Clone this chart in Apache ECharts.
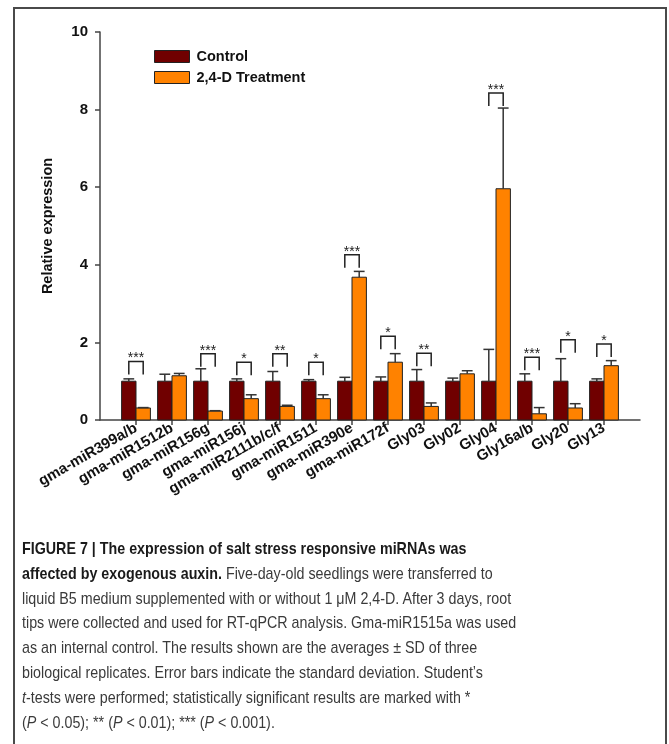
<!DOCTYPE html>
<html>
<head>
<meta charset="utf-8">
<script src="https://cdn.jsdelivr.net/npm/echarts@6/dist/echarts.min.js"></script>
<style>
  html, body { margin: 0; padding: 0; background: #fff; }
  #wrap { position: relative; width: 669px; height: 744px; overflow: hidden; }
  #chart { position: absolute; left: 0; top: 0; width: 669px; height: 744px; }
  #frame { position: absolute; left: 13px; top: 7px; width: 654px; height: 760px;
           border: 2px solid #4a4a4a; box-sizing: border-box; pointer-events: none; }
  #caption { position: absolute; left: 22px; top: 537px;
             font-family: "Liberation Sans", Arial, sans-serif;
             font-size: 17px; line-height: 24.8px; color: #3a3a3a; white-space: nowrap;
             transform: scaleX(0.84); transform-origin: 0 0; }
  #caption b { color: #1a1a1a; }
</style>
</head>
<body>
<div id="wrap">
  <div id="chart"></div>
  <div id="frame"></div>
  <div id="caption">
    <div><b>FIGURE 7 | The expression of salt stress responsive miRNAs was</b></div>
    <div><b>affected by exogenous auxin.</b> Five-day-old seedlings were transferred to</div>
    <div>liquid B5 medium supplemented with or without 1 μM 2,4-D. After 3 days, root</div>
    <div>tips were collected and used for RT-qPCR analysis. Gma-miR1515a was used</div>
    <div>as an internal control. The results shown are the averages ± SD of three</div>
    <div>biological replicates. Error bars indicate the standard deviation. Student’s</div>
    <div><i>t</i>-tests were performed; statistically significant results are marked with *</div>
    <div>(<i>P</i> &lt; 0.05); ** (<i>P</i> &lt; 0.01); *** (<i>P</i> &lt; 0.001).</div>
  </div>
</div>
<script>
// Relative expression of miRNAs in roots, control vs 2,4-D
const categories = ['gma-miR399a/b', 'gma-miR1512b', 'gma-miR156g', 'gma-miR156j',
  'gma-miR2111b/c/f', 'gma-miR1511', 'gma-miR390e', 'gma-miR172f',
  'Gly03', 'Gly02', 'Gly04', 'Gly16a/b', 'Gly20', 'Gly13'];
const controlMean = [1, 1, 1, 1, 1, 1, 1, 1, 1, 1, 1, 1, 1, 1];
const controlSD = [0.06, 0.18, 0.32, 0.06, 0.25, 0.04, 0.10, 0.11, 0.30, 0.08, 0.82, 0.19, 0.58, 0.06];
const treatMean = [0.31, 1.14, 0.23, 0.55, 0.35, 0.55, 3.68, 1.49, 0.35, 1.19, 5.96, 0.16, 0.31, 1.40];
const treatSD = [0.01, 0.06, 0.01, 0.10, 0.03, 0.10, 0.15, 0.22, 0.09, 0.08, 2.08, 0.16, 0.11, 0.13];
// significance marks and the height of each comparison bracket
const sigMarks = ['***', '', '***', '*', '**', '*', '***', '*', '**', '', '***', '***', '*', '*'];
const bracketTop = [1.51, null, 1.71, 1.49, 1.71, 1.49, 4.26, 2.16, 1.72, null, 8.43, 1.62, 2.07, 1.96];
const yTicks = [0, 2, 4, 6, 8, 10];

const CONTROL_COLOR = '#700000';
const TREAT_COLOR = '#ff8200';
const INK = '#222';
const AXIS = '#444';
const FONT = '"Liberation Sans", Arial, sans-serif';
const BAR_FRAC = 0.4;   // bar width as a fraction of the category spacing

const chart = echarts.init(document.getElementById('chart'), null, { renderer: 'canvas' });

function barSeries(name, means, color, side) {
  return {
    name: name,
    type: 'custom',
    itemStyle: { color: color, borderColor: INK, borderWidth: 1 },
    data: means.map((v, i) => [i, v]),
    z: 2,
    renderItem: function (params, api) {
      const i = api.value(0), v = api.value(1);
      const top = api.coord([i, v]);
      const base = api.coord([i, 0]);
      const w = api.size([1, 0])[0] * BAR_FRAC;
      const x = side < 0 ? top[0] - w : top[0];
      return {
        type: 'rect',
        shape: { x: x, y: top[1], width: w, height: base[1] - top[1] },
        style: { fill: color, stroke: INK, lineWidth: 1 }
      };
    }
  };
}

const errData = [];
categories.forEach((c, i) => {
  errData.push([i, controlMean[i], controlSD[i], -1]);
  errData.push([i, treatMean[i], treatSD[i], 1]);
});

const bracketData = [];
bracketTop.forEach((t, i) => { if (t != null) bracketData.push([i, t, i]); });

const option = {
  animation: false,
  backgroundColor: '#fff',
  grid: { left: 100, top: 32, width: 540, height: 388 },
  legend: {
    orient: 'vertical', left: 154, top: 49, padding: 0, itemWidth: 35, itemHeight: 12, itemGap: 6,
    icon: 'rect', selectedMode: false,
    textStyle: { fontFamily: FONT, fontWeight: 'bold', fontSize: 14.5, color: '#111', padding: [0, 0, 0, 2] },
    data: [
      { name: 'Control', itemStyle: { color: CONTROL_COLOR, borderColor: INK, borderWidth: 1 } },
      { name: '2,4-D Treatment', itemStyle: { color: TREAT_COLOR, borderColor: INK, borderWidth: 1 } }
    ]
  },
  xAxis: {
    type: 'value', min: -1, max: 14, interval: 1,
    splitLine: { show: false },
    axisLine: { show: true, onZero: false, lineStyle: { color: AXIS, width: 1.5 } },
    axisTick: { show: true, length: 5, customValues: categories.map((c, i) => i), lineStyle: { color: AXIS, width: 1.5 } },
    axisLabel: {
      customValues: categories.map((c, i) => i),
      formatter: v => categories[v] || '',
      rotate: 30, margin: 7,
      fontFamily: FONT, fontWeight: 'bold', fontSize: 15, color: '#111'
    }
  },
  yAxis: {
    type: 'value', min: 0, max: 10, interval: 2,
    name: 'Relative expression', nameLocation: 'middle', nameGap: 45,
    nameTextStyle: { fontFamily: FONT, fontWeight: 'bold', fontSize: 14.5, color: '#111' },
    splitLine: { show: false },
    axisLine: { show: true, onZero: false, lineStyle: { color: AXIS, width: 1.5 } },
    axisTick: { show: true, length: 5, lineStyle: { color: AXIS, width: 1.5 } },
    axisLabel: {
      margin: 12, formatter: v => (yTicks.indexOf(v) >= 0 ? String(v) : ''),
      fontFamily: FONT, fontWeight: 'bold', fontSize: 15, color: '#111'
    }
  },
  series: [
    barSeries('Control', controlMean, CONTROL_COLOR, -1),
    barSeries('2,4-D Treatment', treatMean, TREAT_COLOR, 1),
    {
      name: 'error', type: 'custom', z: 3, data: errData,
      renderItem: function (params, api) {
        const i = api.value(0), m = api.value(1), sd = api.value(2), side = api.value(3);
        const band = api.size([1, 0])[0];
        const w = band * BAR_FRAC;
        const p0 = api.coord([i, m]);
        const p1 = api.coord([i, m + sd]);
        const cx = p0[0] + side * w / 2;
        const cap = band * 0.3;
        const st = { stroke: '#333', lineWidth: 1.5 };
        return {
          type: 'group',
          children: [
            { type: 'line', shape: { x1: cx, y1: p0[1], x2: cx, y2: p1[1] }, style: st },
            { type: 'line', shape: { x1: cx - cap / 2, y1: p1[1], x2: cx + cap / 2, y2: p1[1] }, style: st }
          ]
        };
      }
    },
    {
      name: 'significance', type: 'custom', z: 3, data: bracketData,
      renderItem: function (params, api) {
        const i = api.value(0), t = api.value(1), k = api.value(2);
        const band = api.size([1, 0])[0];
        const w = band * BAR_FRAC;
        const p = api.coord([i, t]);
        const xl = p[0] - w / 2, xr = p[0] + w / 2;
        const leg = 13;
        return {
          type: 'group',
          children: [
            { type: 'polyline', shape: { points: [[xl, p[1] + leg], [xl, p[1]], [xr, p[1]], [xr, p[1] + leg]] },
              style: { stroke: INK, lineWidth: 1.5, fill: null } },
            { type: 'text', x: p[0], y: p[1] - 3,
              style: { text: sigMarks[k], align: 'center', verticalAlign: 'middle',
                       font: '14px ' + FONT, fill: INK } }
          ]
        };
      }
    }
  ]
};

chart.setOption(option);
</script>
</body>
</html>
